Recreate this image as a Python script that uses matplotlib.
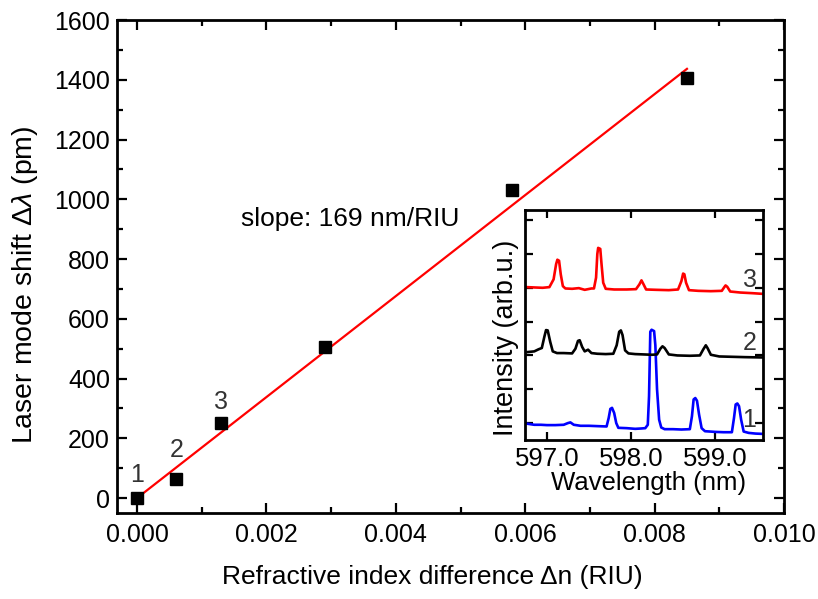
import numpy as np
import matplotlib
matplotlib.use('Agg')
import matplotlib.pyplot as plt
from matplotlib.ticker import MultipleLocator

plt.rcParams['font.family'] = ['Liberation Sans', 'DejaVu Sans']
plt.rcParams['mathtext.fontset'] = 'custom'
plt.rcParams['mathtext.rm'] = 'Liberation Sans'
plt.rcParams['mathtext.it'] = 'Liberation Sans:italic'

W, H = 818, 599

# main panel: mode shift vs refractive index difference
dn = [0.0, 0.0006, 0.0013, 0.0029, 0.0058, 0.0085]
shift_pm = [0, 65, 250, 505, 1030, 1405]
point_labels = ['1', '2', '3']
label_xy = [(0.0, 77), (0.00062, 160), (0.0013, 321)]
slope_pm = 169000.0  # 169 nm/RIU
fit_x = np.array([0.0, 0.0085])

# inset spectra (wavelength nm, intensity arb.u., offset per sample)
wl3 = [596.76, 596.85, 596.95, 597.03, 597.08, 597.11, 597.125, 597.145, 597.165,
       597.19, 597.22, 597.30, 597.38, 597.45, 597.53, 597.56, 597.585, 597.60,
       597.61, 597.635, 597.65, 597.67, 597.70, 597.80, 597.95, 598.06, 598.10,
       598.125, 598.15, 598.18, 598.30, 598.45, 598.56, 598.60, 598.62, 598.635,
       598.655, 598.69, 598.80, 598.95, 599.08, 599.11, 599.125, 599.145, 599.18,
       599.30, 599.45, 599.57]
int3 = [4.02, 4.01, 4.00, 4.02, 4.25, 4.70, 4.83, 4.80, 4.40,
        4.05, 3.98, 3.97, 3.99, 3.94, 3.98, 3.98, 4.30, 5.00,
        5.18, 5.15, 4.70, 4.15, 3.97, 3.95, 3.95, 3.96, 4.10,
        4.22, 4.10, 3.95, 3.94, 3.93, 3.95, 4.20, 4.42, 4.40,
        4.15, 3.93, 3.91, 3.90, 3.91, 4.02, 4.07, 4.03, 3.89,
        3.86, 3.84, 3.82]

wl2 = [596.77, 596.85, 596.90, 596.94, 596.97, 596.99, 597.01, 597.04, 597.07,
       597.12, 597.20, 597.30, 597.34, 597.37, 597.39, 597.42, 597.45, 597.49,
       597.53, 597.60, 597.70, 597.79, 597.83, 597.86, 597.88, 597.90, 597.93,
       597.97, 598.05, 598.15, 598.25, 598.31, 598.35, 598.375, 598.40, 598.45,
       598.55, 598.70, 598.82, 598.86, 598.89, 598.91, 598.95, 599.05, 599.20,
       599.35, 599.57]
int2 = [2.10, 2.12, 2.18, 2.22, 2.55, 2.75, 2.74, 2.40, 2.12,
        2.07, 2.07, 2.06, 2.20, 2.43, 2.45, 2.25, 2.12, 2.17,
        2.07, 2.05, 2.04, 2.05, 2.30, 2.70, 2.74, 2.60, 2.15,
        2.06, 2.04, 2.03, 2.02, 2.03, 2.20, 2.27, 2.22, 2.03,
        2.00, 1.99, 2.00, 2.18, 2.30, 2.22, 2.02, 1.97, 1.96,
        1.95, 1.94]

wl1 = [596.77, 596.85, 596.93, 597.00, 597.10, 597.20, 597.25, 597.28, 597.32,
       597.40, 597.50, 597.60, 597.71, 597.735, 597.755, 597.775, 597.80, 597.825,
       597.85, 597.95, 598.05, 598.12, 598.17, 598.20, 598.215, 598.23, 598.245,
       598.275, 598.29, 598.31, 598.335, 598.36, 598.40, 598.50, 598.60, 598.70,
       598.725, 598.745, 598.765, 598.785, 598.81, 598.84, 598.88, 599.00, 599.10,
       599.20, 599.225, 599.245, 599.265, 599.285, 599.31, 599.34, 599.40, 599.48,
       599.57]
int1 = [-0.02, -0.05, -0.05, -0.06, -0.06, -0.05, 0.00, 0.02, -0.05,
        -0.08, -0.08, -0.09, -0.10, 0.15, 0.42, 0.45, 0.30, 0.00,
        -0.14, -0.15, -0.17, -0.16, -0.15, -0.05, 0.80, 2.70, 2.76,
        2.72, 2.30, 1.00, 0.10, -0.13, -0.18, -0.18, -0.19, -0.18,
        0.20, 0.70, 0.74, 0.66, 0.25, -0.15, -0.24, -0.26, -0.27,
        -0.27, 0.15, 0.55, 0.58, 0.50, 0.10, -0.25, -0.29, -0.31,
        -0.32]

spec_labels = ['1', '2', '3']
spec_label_y = [0.08, 2.36, 4.22]


def style_axes(ax, major_len=7, minor_len=4.5):
    for s in ax.spines.values():
        s.set_linewidth(2)
    ax.tick_params(which='both', direction='in', top=True, right=True, width=1.6)
    ax.tick_params(which='major', length=major_len)
    ax.tick_params(which='minor', length=minor_len)


def fig_text(fig, px, py, s, **kw):
    # place text by pixel position in the 818x599 canvas
    fig.text(px / W, 1 - py / H, s, ha='center', va='center', **kw)


def main():
    fig = plt.figure(figsize=(W / 100, H / 100), dpi=100)
    ax = fig.add_axes([117 / W, 1 - 513 / H, 667 / W, 493 / H])

    ax.plot(fit_x, slope_pm * fit_x, color='red', lw=1.6, zorder=2)
    ax.plot(dn, shift_pm, 's', color='black', ms=9, zorder=3)
    for t, (x, y) in zip(point_labels, label_xy):
        ax.text(x, y, t, ha='center', va='center', fontsize=18, color='#333333')
    ax.text(0.0033, 935, 'slope: 169 nm/RIU', ha='center', va='center', fontsize=19)

    ax.set_xlim(-0.00031, 0.010)
    ax.set_ylim(-50, 1600)
    ax.xaxis.set_major_locator(MultipleLocator(0.002))
    ax.xaxis.set_minor_locator(MultipleLocator(0.001))
    ax.yaxis.set_major_locator(MultipleLocator(200))
    ax.yaxis.set_minor_locator(MultipleLocator(100))
    ax.xaxis.set_major_formatter(plt.FuncFormatter(lambda v, p: '%.3f' % v))
    style_axes(ax)
    ax.tick_params(labelsize=18)
    ax.tick_params(axis='x', pad=7)
    ax.tick_params(axis='y', pad=5)
    fig_text(fig, 432, 577, 'Refractive index difference Δn (RIU)', fontsize=19)
    fig_text(fig, 25, 285, r'Laser mode shift $\mathit{\Delta\lambda}$ (pm)',
             fontsize=20.5, rotation=90)

    # inset with the lasing spectra
    ins = fig.add_axes([525 / W, 1 - 440 / H, 238 / W, 230 / H])
    ins.set_facecolor('white')
    ins.plot(wl1, int1, color='#0000ff', lw=1.9)
    ins.plot(wl2, int2, color='black', lw=1.9)
    ins.plot(wl3, int3, color='red', lw=1.9)
    for t, y in zip(spec_labels, spec_label_y):
        ins.text(599.41, y, t, ha='center', va='center', fontsize=18, color='#333333')
    ins.set_xlim(596.74, 599.57)
    ins.set_ylim(-0.5, 6.3)
    ins.xaxis.set_major_locator(MultipleLocator(1.0))
    ins.yaxis.set_major_locator(MultipleLocator(1.0))
    ins.xaxis.set_major_formatter(plt.FuncFormatter(lambda v, p: '%.1f' % v))
    ins.set_yticklabels([])
    style_axes(ins, major_len=6)
    ins.tick_params(labelsize=18.5, pad=5)
    fig_text(fig, 649, 483, 'Wavelength (nm)', fontsize=18.5)
    fig_text(fig, 506, 338, 'Intensity (arb.u.)', fontsize=19.5, rotation=90)

    fig.savefig('out.png', dpi=100)


if __name__ == '__main__':
    main()
